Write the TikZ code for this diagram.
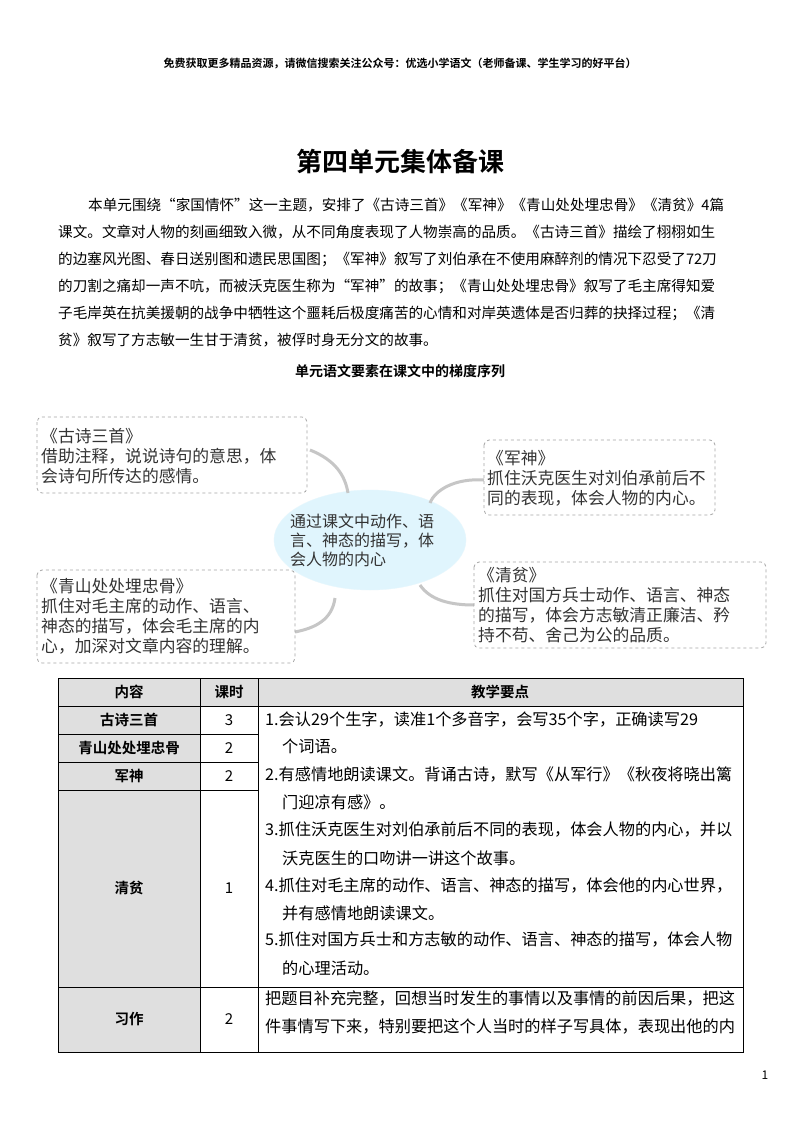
\documentclass[tikz,border=0pt]{standalone}
\usepackage{fontspec}
\setmainfont{Noto Sans CJK SC}
\newfontfamily\cjk{Noto Sans CJK SC}
\newfontfamily\cjkb{Noto Sans CJK SC Bold}
\usetikzlibrary{shapes.geometric}
\begin{document}
\begin{tikzpicture}[x=1pt,y=-1pt,
  line/.style={anchor=west,inner sep=0,font=\fontsize{14.6}{16}\selectfont},
  mbox/.style={draw=gray!70,dashed,rounded corners=5,line width=0.8pt},
  mtxt/.style={anchor=west,inner sep=0,font=\fontsize{16.8}{19}\selectfont\color{black!80}},
  arm/.style={draw=gray!45,line width=3pt},
  cell/.style={anchor=center,inner sep=0,font=\fontsize{15}{16}\selectfont},
  bcell/.style={anchor=center,inner sep=0,font=\cjkb\fontsize{14.5}{16}\selectfont}]
\useasboundingbox (0,0) rectangle (800,1132);
\fill[white] (0,0) rectangle (800,1132);
\node[inner sep=0,font=\cjkb\fontsize{11}{12}\selectfont] (hdr) at (400,63) {免费获取更多精品资源，请微信搜索关注公众号：优选小学语文（老师备课、学生学习的好平台）};
\node[inner sep=0,font=\cjkb\fontsize{26}{28}\selectfont] (title) at (400,162) {第四单元集体备课};
\node[line] (p1) at (88,205) {本单元围绕“家国情怀”这一主题，安排了《古诗三首》《军神》《青山处处埋忠骨》《清贫》4篇};
\node[line] (p2) at (58,232) {课文。文章对人物的刻画细致入微，从不同角度表现了人物崇高的品质。《古诗三首》描绘了栩栩如生};
\node[line] (p3) at (58,259) {的边塞风光图、春日送别图和遗民思国图；《军神》叙写了刘伯承在不使用麻醉剂的情况下忍受了72刀};
\node[line] (p4) at (58,286) {的刀割之痛却一声不吭，而被沃克医生称为“军神”的故事；《青山处处埋忠骨》叙写了毛主席得知爱};
\node[line] (p5) at (58,313) {子毛岸英在抗美援朝的战争中牺牲这个噩耗后极度痛苦的心情和对岸英遗体是否归葬的抉择过程；《清};
\node[line] (p6) at (58,340) {贫》叙写了方志敏一生甘于清贫，被俘时身无分文的故事。};
\node[inner sep=0,font=\cjkb\fontsize{14}{16}\selectfont] (sub) at (400,371) {单元语文要素在课文中的梯度序列};
% mind map
\node[ellipse,fill=cyan!12,draw=cyan!10,minimum width=192,minimum height=100] (c) at (370,540) {};
\draw[arm] (310,450) .. controls (335,460) and (345,475) .. (348,493);
\draw[arm] (484,480) .. controls (455,478) and (435,490) .. (430,503);
\draw[arm] (335,598) .. controls (332,620) and (315,628) .. (295,632);
\draw[arm] (420,585) .. controls (430,600) and (450,605) .. (474,605);
\node[mtxt,align=left,font=\fontsize{16}{18}\selectfont\color{black!80}] (ct) at (290,540) {通过课文中动作、语\\[1pt]言、神态的描写，体\\[1pt]会人物的内心};
\draw[mbox] (37,417) rectangle (307,493);
\node[mtxt,align=left] (b1) at (41,456) {《古诗三首》\\[1pt]借助注释，说说诗句的意思，体\\[1pt]会诗句所传达的感情。};
\draw[mbox] (484,440) rectangle (715,515);
\node[mtxt,align=left] (b2) at (487,478) {《军神》\\[1pt]抓住沃克医生对刘伯承前后不\\[1pt]同的表现，体会人物的内心。};
\draw[mbox] (37,570) rectangle (295,663);
\node[mtxt,align=left] (b3) at (41,616) {《青山处处埋忠骨》\\[1pt]抓住对毛主席的动作、语言、\\[1pt]神态的描写，体会毛主席的内\\[1pt]心，加深对文章内容的理解。};
\draw[mbox] (474,562) rectangle (766,648);
\node[mtxt,align=left] (b4) at (478,605) {《清贫》\\[1pt]抓住对国方兵士动作、语言、神态\\[1pt]的描写，体会方志敏清正廉洁、矜\\[1pt]持不苟、舍己为公的品质。};
% table
\fill[gray!25] (58,678) rectangle (743,706);
\fill[gray!25] (58,706) rectangle (200,1052);
\draw[line width=0.6pt] (58,678) rectangle (743,1052);
\draw[line width=0.6pt] (200,678) -- (200,1052) (258,678) -- (258,1052);
\draw[line width=0.6pt] (58,706) -- (743,706);
\draw[line width=0.6pt] (58,734) -- (258,734) (58,762) -- (258,762) (58,790) -- (258,790);
\draw[line width=0.6pt] (58,987) -- (743,987);
\node[bcell] (h1) at (129,692) {内容};
\node[bcell] (h2) at (229,692) {课时};
\node[bcell] (h3) at (500,692) {教学要点};
\node[bcell] (r1) at (129,720) {古诗三首};
\node[bcell] (r2) at (129,748) {青山处处埋忠骨};
\node[bcell] (r3) at (129,776) {军神};
\node[bcell] (r4) at (129,888) {清贫};
\node[bcell] (r5) at (129,1019) {习作};
\node[cell] (n1) at (229,720) {3};
\node[cell] (n2) at (229,748) {2};
\node[cell] (n3) at (229,776) {2};
\node[cell] (n4) at (229,888) {1};
\node[cell] (n5) at (229,1019) {2};
\begin{scope}[every node/.style={anchor=west,inner sep=0,font=\fontsize{16.2}{18}\selectfont}]
\node (t1) at (265,719) {1.会认29个生字，读准1个多音字，会写35个字，正确读写29};
\node (t2) at (282,746) {个词语。};
\node (t3) at (265,774) {2.有感情地朗读课文。背诵古诗，默写《从军行》《秋夜将晓出篱};
\node (t4) at (282,802) {门迎凉有感》。};
\node (t5) at (265,830) {3.抓住沃克医生对刘伯承前后不同的表现，体会人物的内心，并以};
\node (t6) at (282,858) {沃克医生的口吻讲一讲这个故事。};
\node (t7) at (265,885) {4.抓住对毛主席的动作、语言、神态的描写，体会他的内心世界，};
\node (t8) at (282,913) {并有感情地朗读课文。};
\node (t9) at (265,940) {5.抓住对国方兵士和方志敏的动作、语言、神态的描写，体会人物};
\node (t10) at (282,968) {的心理活动。};
\node (t11) at (265,998) {把题目补充完整，回想当时发生的事情以及事情的前因后果，把这};
\node (t12) at (265,1027) {件事情写下来，特别要把这个人当时的样子写具体，表现出他的内};
\end{scope}
\node[inner sep=0,font=\fontsize{12}{14}\selectfont] (pg) at (765,1075) {1};
\end{tikzpicture}
\end{document}
